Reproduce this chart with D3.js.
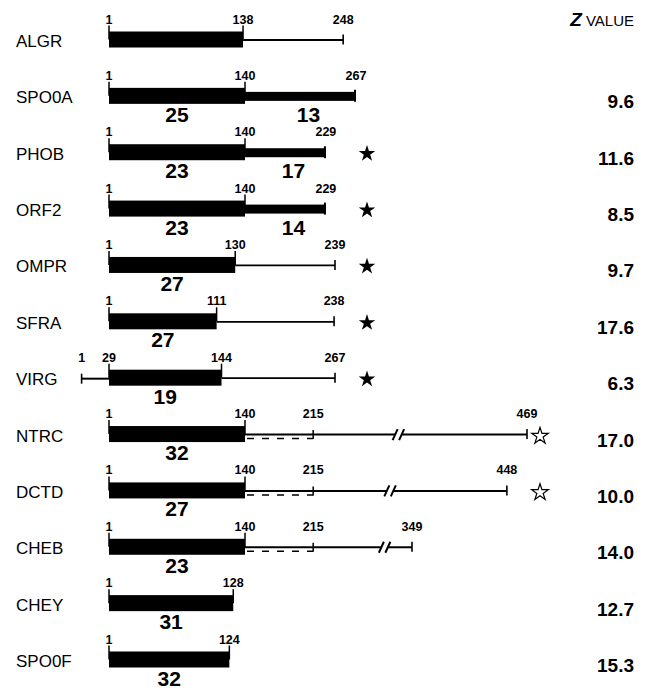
<!DOCTYPE html>
<html>
<head>
<meta charset="utf-8">
<script src="https://cdn.jsdelivr.net/npm/d3@7"></script>
<style>
  html, body { margin: 0; padding: 0; background: #fff; }
  svg { display: block; }
  text { font-family: "Liberation Sans", Arial, sans-serif; fill: #000; }
</style>
</head>
<body>
<svg id="chart" width="650" height="692"></svg>
<script>
// ---------------- data ----------------
const names        = ["ALGR","SPO0A","PHOB","ORF2","OMPR","SFRA","VIRG","NTRC","DCTD","CHEB","CHEY","SPO0F"];
const proteinStart = [1, 1, 1, 1, 1, 1, 1, 1, 1, 1, 1, 1];
const domainStart  = [1, 1, 1, 1, 1, 1, 29, 1, 1, 1, 1, 1];
const domainEnd    = [138, 140, 140, 140, 130, 111, 144, 140, 140, 140, 128, 124];
const proteinEnd   = [248, 267, 229, 229, 239, 238, 267, 469, 448, 349, 128, 124];
const innerMark    = [null, null, null, null, null, null, null, 215, 215, 215, null, null];
const breakAt      = [null, null, null, null, null, null, null, 315, 298, 293, null, null];
const thickTail    = [false, true, true, true, false, false, false, false, false, false, false, false];
const identDomain  = [null, 25, 23, 23, 27, 27, 19, 32, 27, 23, 31, 32];
const identTail    = [null, 13, 17, 14, null, null, null, null, null, null, null, null];
const zValues      = [null, "9.6", "11.6", "8.5", "9.7", "17.6", "6.3", "17.0", "10.0", "14.0", "12.7", "15.3"];
const starType     = [null, null, "filled", "filled", "filled", "filled", "filled", "open", "open", null, null, null];
// residue axis breakpoints (aligned residue numbers) used by the broken scale
const residueKnots = [1, 140, 250, 267, 300, 349, 469];

// ---------------- scales ----------------
const svg = d3.select("#chart");
svg.append("rect").attr("width", 650).attr("height", 692).attr("fill", "#fff");

const x = d3.scaleLinear().domain(residueKnots).range([109, 245, 345, 356, 392, 412, 527]);
const y = d3.scalePoint().domain(names).range([39.5, 659.5]);

const rows = names.map((n, i) => ({
  name: n, i,
  off: domainStart[i] - 1,
  pStart: proteinStart[i], dStart: domainStart[i], dEnd: domainEnd[i], pEnd: proteinEnd[i],
  mark: innerMark[i], brk: breakAt[i], thick: thickTail[i],
  idD: identDomain[i], idT: identTail[i], z: zValues[i], star: starType[i]
}));
const X = (r, res) => x(res - r.off);

const BAR_H = 16;

// header
const hdr = svg.append("text").attr("x", 634).attr("y", 26).attr("text-anchor", "end");
hdr.append("tspan").attr("font-size", 19).attr("font-weight", "bold").attr("font-style", "italic").text("Z");
hdr.append("tspan").attr("font-size", 15).attr("dx", 4).text("VALUE");

const g = svg.selectAll("g.row").data(rows).join("g").attr("class", "row")
  .attr("transform", d => `translate(0,${y(d.name)})`);

// names
g.append("text").attr("x", 16).attr("y", 7.5).attr("font-size", 17).text(d => d.name);

// z values
g.filter(d => d.z).append("text")
  .attr("x", 634).attr("y", 12.5).attr("text-anchor", "end")
  .attr("font-size", 19).attr("font-weight", "bold").text(d => d.z);

// leading segment (VIRG 1..29)
g.filter(d => d.pStart < d.dStart).each(function(d) {
  const s = d3.select(this);
  s.append("line").attr("x1", X(d, d.pStart)).attr("x2", X(d, d.dStart))
    .attr("y1", 1).attr("y2", 1).attr("stroke", "#000").attr("stroke-width", 2);
  s.append("line").attr("x1", X(d, d.pStart)).attr("x2", X(d, d.pStart))
    .attr("y1", -4).attr("y2", 6).attr("stroke", "#000").attr("stroke-width", 1.6);
});

// tails
g.filter(d => d.pEnd > d.dEnd).each(function(d) {
  const s = d3.select(this);
  const x0 = X(d, d.dEnd), x1 = X(d, d.pEnd);
  if (d.thick) {
    s.append("rect").attr("x", x0).attr("y", -4).attr("width", x1 - x0).attr("height", 9).attr("fill", "#000");
    s.append("line").attr("x1", x1 - 1).attr("x2", x1 - 1).attr("y1", -6).attr("y2", 6)
      .attr("stroke", "#000").attr("stroke-width", 2);
  } else if (d.brk) {
    const xb = X(d, d.brk);
    s.append("line").attr("x1", x0).attr("x2", xb - 3).attr("y1", 0.5).attr("y2", 0.5)
      .attr("stroke", "#000").attr("stroke-width", 2);
    s.append("line").attr("x1", xb + 4).attr("x2", x1).attr("y1", 0.5).attr("y2", 0.5)
      .attr("stroke", "#000").attr("stroke-width", 2);
    [-2.5, 4].forEach(dx => {
      s.append("line").attr("x1", xb + dx - 3).attr("x2", xb + dx + 2)
        .attr("y1", 6).attr("y2", -5).attr("stroke", "#000").attr("stroke-width", 2);
    });
    s.append("line").attr("x1", x1).attr("x2", x1).attr("y1", -5).attr("y2", 5)
      .attr("stroke", "#000").attr("stroke-width", 1.6);
  } else {
    s.append("line").attr("x1", x0).attr("x2", x1).attr("y1", 0.5).attr("y2", 0.5)
      .attr("stroke", "#000").attr("stroke-width", 1.8);
    s.append("line").attr("x1", x1).attr("x2", x1).attr("y1", -5).attr("y2", 5)
      .attr("stroke", "#000").attr("stroke-width", 1.6);
  }
  // dashed bracket to inner mark
  if (d.mark) {
    const xm = X(d, d.mark);
    s.append("line").attr("x1", x0 + 2).attr("x2", xm).attr("y1", 4.5).attr("y2", 4.5)
      .attr("stroke", "#000").attr("stroke-width", 1.5).attr("stroke-dasharray", "7,8");
    s.append("line").attr("x1", xm).attr("x2", xm).attr("y1", -4).attr("y2", 5)
      .attr("stroke", "#000").attr("stroke-width", 1.5);
  }
});

// domain bars
g.append("rect")
  .attr("x", d => X(d, d.dStart)).attr("y", -BAR_H / 2)
  .attr("width", d => X(d, d.dEnd) - X(d, d.dStart)).attr("height", BAR_H)
  .attr("fill", "#000");

// ticks above bar at domain start/end
g.each(function(d) {
  const s = d3.select(this);
  [d.dStart, d.dEnd].forEach(r => {
    s.append("line").attr("x1", X(d, r)).attr("x2", X(d, r))
      .attr("y1", -14).attr("y2", 0).attr("stroke", "#000").attr("stroke-width", 1.5);
  });
});

// position labels
g.each(function(d) {
  const s = d3.select(this);
  const labs = [];
  if (d.pStart < d.dStart) labs.push(d.pStart);
  labs.push(d.dStart, d.dEnd);
  if (d.mark) labs.push(d.mark);
  if (d.pEnd > d.dEnd) labs.push(d.pEnd);
  s.selectAll("text.pos").data(labs).join("text").attr("class", "pos")
    .attr("x", r => X(d, r)).attr("y", -16)
    .attr("text-anchor", "middle").attr("font-size", 12.5).attr("font-weight", "bold")
    .text(r => r);
});

// identity labels
g.filter(d => d.idD != null).append("text")
  .attr("x", d => (X(d, d.dStart) + X(d, d.dEnd)) / 2).attr("y", 26)
  .attr("text-anchor", "middle").attr("font-size", 21).attr("font-weight", "bold")
  .text(d => d.idD);
g.filter(d => d.idT != null).append("text")
  .attr("x", d => (X(d, d.dEnd) + X(d, d.pEnd)) / 2 + 8).attr("y", 26)
  .attr("text-anchor", "middle").attr("font-size", 21).attr("font-weight", "bold")
  .text(d => d.idT);

// stars
const starPath = d3.symbol().type(d3.symbolStar);
g.filter(d => d.star === "filled").append("path")
  .attr("transform", "translate(367,1.5)")
  .attr("d", starPath.size(85)()).attr("fill", "#000");
g.filter(d => d.star === "open").append("path")
  .attr("transform", "translate(540,2)")
  .attr("d", starPath.size(85)()).attr("fill", "#fff").attr("stroke", "#000").attr("stroke-width", 1.2);
</script>
</body>
</html>
